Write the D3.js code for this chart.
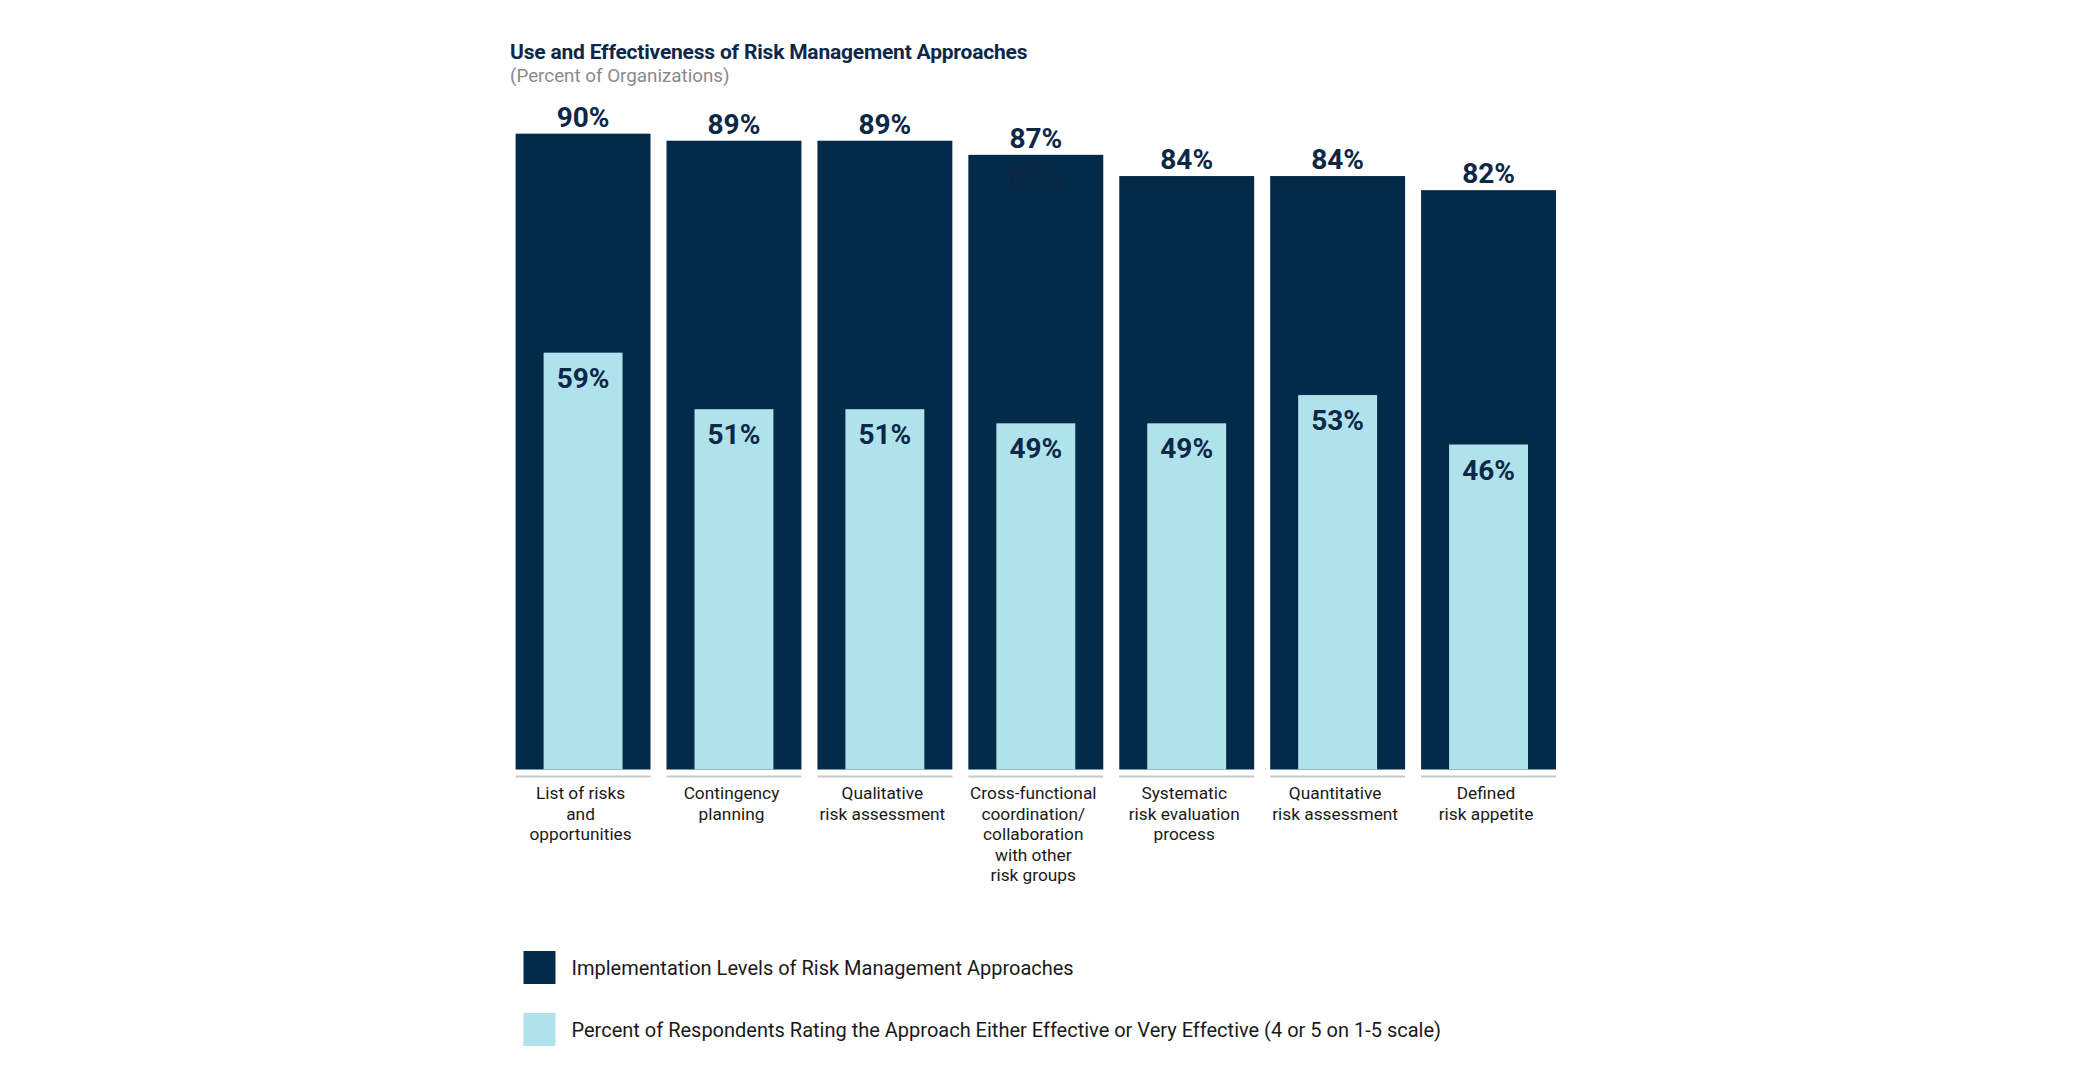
<!doctype html>
<html lang='en'>
<head>
    <meta charset='UTF-8'>
    <title>Use and Effectiveness of Risk Management Approaches</title>
    <style>
        body{
            margin: 0;
            background: #fff;
        }
        svg text{
            font-family: Roboto, 'Open Sans', sans-serif;
        }
        .title{
            font-size: 21px;
            font-weight: 700;
            fill: #0d2847;
            letter-spacing: -0.2px;
        }
        .subtitle{
            font-size: 18.8px;
            fill: #8a8a8a;
        }
        .value{
            font-size: 28px;
            font-weight: 700;
            fill: #0d2847;
        }
        .cat{
            font-size: 17.3px;
            fill: #1a1a1a;
        }
        .legend text{
            font-size: 20px;
            fill: #1a1a1a;
        }
    </style>
</head>
<body>
<script src='https://d3js.org/d3.v7.min.js'></script>
<script>
  const categories = [
    ['List of risks', 'and', 'opportunities'],
    ['Contingency', 'planning'],
    ['Qualitative', 'risk assessment'],
    ['Cross-functional', 'coordination/', 'collaboration', 'with other', 'risk groups'],
    ['Systematic', 'risk evaluation', 'process'],
    ['Quantitative', 'risk assessment'],
    ['Defined', 'risk appetite']
  ]
  const implementation = [90, 89, 89, 87, 84, 84, 82]
  const effective = [59, 51, 51, 49, 49, 53, 46]
  const seriesNames = [
    'Implementation Levels of Risk Management Approaches',
    'Percent of Respondents Rating the Approach Either Effective or Very Effective (4 or 5 on 1-5 scale)'
  ]

  const dark = '#032a49'
  const light = '#b0e2ec'

  const width = 2073
  const height = 1086

  const svg = d3.select('body')
    .append('svg')
    .attr('width', width)
    .attr('height', height)

  const xScale = d3.scaleBand()
    .domain(d3.range(categories.length))
    .range([507.6, 1564])
    .paddingInner(0.106)
    .paddingOuter(0.053)

  const yScale = d3.scaleLinear()
    .domain([0, 100])
    .range([769.5, 63])

  // title
  svg.append('text')
    .attr('class', 'title')
    .attr('x', 510)
    .attr('y', 59)
    .text('Use and Effectiveness of Risk Management Approaches')

  svg.append('text')
    .attr('class', 'subtitle')
    .attr('x', 510)
    .attr('y', 82)
    .text('(Percent of Organizations)')

  // dark bars
  svg.selectAll('.bar-dark')
    .data(implementation)
    .enter()
    .append('rect')
    .attr('class', 'bar-dark')
    .attr('x', (d, i) => xScale(i))
    .attr('y', d => yScale(d))
    .attr('width', xScale.bandwidth())
    .attr('height', d => yScale(0) - yScale(d))
    .attr('fill', dark)

  // light bars, centred inside dark ones
  const innerW = xScale.bandwidth() * 0.585
  svg.selectAll('.bar-light')
    .data(effective)
    .enter()
    .append('rect')
    .attr('class', 'bar-light')
    .attr('x', (d, i) => xScale(i) + (xScale.bandwidth() - innerW) / 2)
    .attr('y', d => yScale(d))
    .attr('width', innerW)
    .attr('height', d => yScale(0) - yScale(d))
    .attr('fill', light)

  // baseline segments under each bar
  svg.selectAll('.base')
    .data(categories)
    .enter()
    .append('line')
    .attr('x1', (d, i) => xScale(i))
    .attr('x2', (d, i) => xScale(i) + xScale.bandwidth())
    .attr('y1', yScale(0) + 7)
    .attr('y2', yScale(0) + 7)
    .attr('stroke', '#c9c9c9')
    .attr('stroke-width', 2)

  // value labels
  svg.selectAll('.val-dark')
    .data(implementation)
    .enter()
    .append('text')
    .attr('class', 'value')
    .attr('text-anchor', 'middle')
    .attr('x', (d, i) => xScale(i) + xScale.bandwidth() / 2)
    .attr('y', d => yScale(d) - 7)
    .text(d => d + '%')

  svg.selectAll('.val-light')
    .data(effective)
    .enter()
    .append('text')
    .attr('class', 'value')
    .attr('text-anchor', 'middle')
    .attr('x', (d, i) => xScale(i) + xScale.bandwidth() / 2)
    .attr('y', d => yScale(d) + 35)
    .text(d => d + '%')

  // leftover label barely visible on the 4th bar
  svg.append('text')
    .attr('class', 'value')
    .attr('text-anchor', 'middle')
    .attr('x', xScale(3) + xScale.bandwidth() / 2)
    .attr('y', yScale(implementation[3]) + 31)
    .style('fill', '#0a2644')
    .text('82%')

  // category labels
  const cats = svg.selectAll('.cat')
    .data(categories)
    .enter()
    .append('text')
    .attr('class', 'cat')
    .attr('text-anchor', 'middle')
    .attr('x', (d, i) => xScale(i) + xScale.bandwidth() / 2 - 2.5)
    .attr('y', 799)

  cats.selectAll('tspan')
    .data(d => d)
    .enter()
    .append('tspan')
    .attr('x', function () { return d3.select(this.parentNode).attr('x') })
    .attr('dy', (d, i) => i === 0 ? 0 : 20.5)
    .text(d => d)

  // legend
  const legend = svg.append('g')
    .attr('class', 'legend')

  const item = legend.selectAll('g')
    .data(seriesNames)
    .enter()
    .append('g')
    .attr('transform', (d, i) => `translate(523.5, ${951 + i * 62})`)

  item.append('rect')
    .attr('width', 32)
    .attr('height', 33)
    .attr('fill', (d, i) => i === 0 ? dark : light)

  item.append('text')
    .attr('x', 48)
    .attr('y', 17)
    .attr('dy', '0.35em')
    .text(d => d)
</script>
</body>
</html>
